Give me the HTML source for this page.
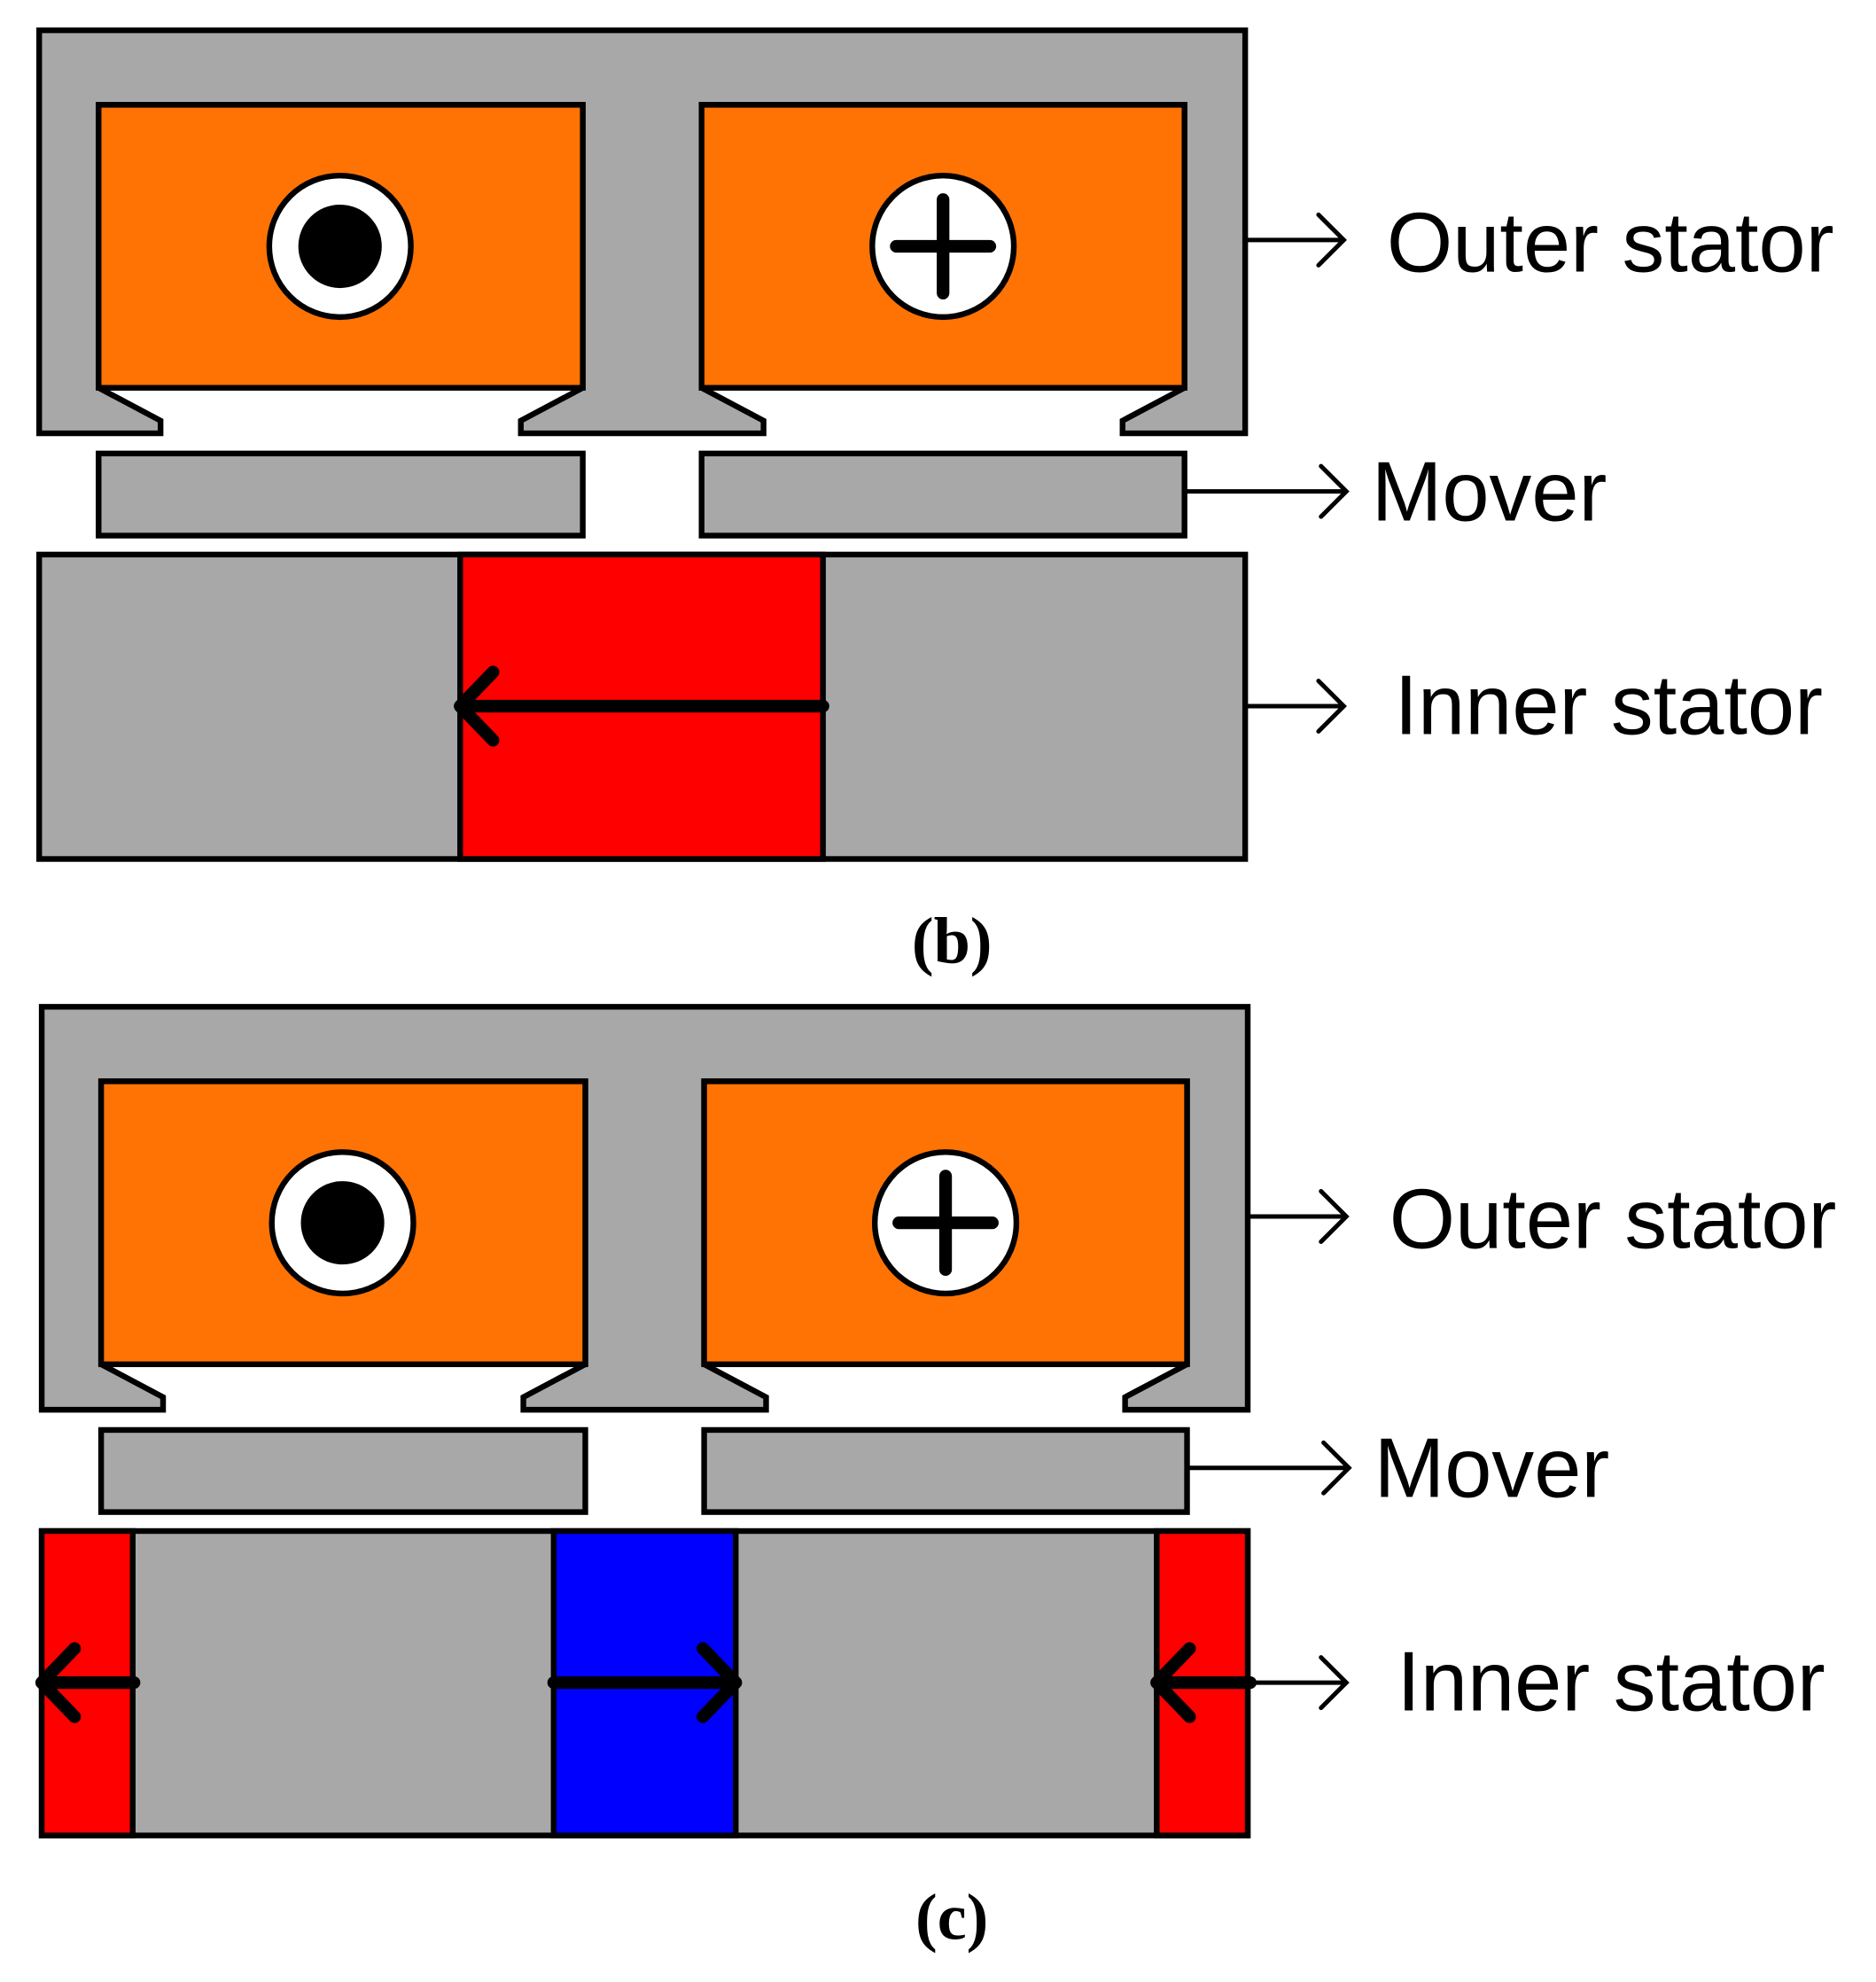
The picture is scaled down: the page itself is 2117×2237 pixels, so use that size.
<!DOCTYPE html>
<html><head><meta charset="utf-8"><style>
html,body{margin:0;padding:0;background:#fff}
svg{display:block}
</style></head><body>
<svg width="2117" height="2237" viewBox="0 0 1484 1569" preserveAspectRatio="none" xmlns="http://www.w3.org/2000/svg">
<defs>
<g id="top" stroke="#000" stroke-width="4.5" stroke-linejoin="miter">
<path fill="#a8a8a8" d="M31,24 H985 V343 H888 V333 L937,307 V83 H555 V307 L604,333 V343 H412 V333 L461,307 V83 H78 V307 L127,333 V343 H31 Z"/>
<rect x="78" y="83" width="383" height="224" fill="#ff7304"/>
<rect x="555" y="83" width="382" height="224" fill="#ff7304"/>
<circle cx="269" cy="195" r="56" fill="#fff"/>
<circle cx="269" cy="195" r="33" fill="#000" stroke="none"/>
<circle cx="746" cy="195" r="56" fill="#fff"/>
<path d="M746,158 V232 M709,195 H783" stroke-width="10" stroke-linecap="round" fill="none"/>
<rect x="78" y="359" width="383" height="65" fill="#a8a8a8"/>
<rect x="555" y="359" width="382" height="65" fill="#a8a8a8"/>
<g fill="none" stroke-width="3.5" stroke-linecap="round">
<path d="M985,190 H1063 M1043,170 L1063,190 L1043,210"/>
<path d="M937,389 H1065 M1045,369 L1065,389 L1045,409"/>
<path d="M985,559 H1063 M1043,539 L1063,559 L1043,579"/>
</g>
</g>
</defs>

<use href="#top"/>
<g stroke="#000" stroke-width="4.5">
<rect x="31" y="439" width="954" height="241" fill="#a8a8a8"/>
<rect x="364" y="439" width="287" height="241" fill="#f00"/>
<path d="M651,559 H364 M390,532 L364,559 L390,586" fill="none" stroke-width="10" stroke-linecap="round" stroke-linejoin="round"/>
</g>
<g font-family="Liberation Sans, sans-serif" font-size="67" fill="#000">
<text x="1097" y="215">Outer stator</text>
<text x="1085" y="412">Mover</text>
<text x="1103" y="581">Inner stator</text>
</g>
<text x="753" y="762" font-family="Liberation Serif, serif" font-size="52" font-weight="bold" text-anchor="middle">(b)</text>

<g transform="translate(2,773)">
<use href="#top"/>
<g stroke="#000" stroke-width="4.5">
<rect x="31" y="439" width="954" height="241" fill="#a8a8a8"/>
<rect x="31" y="439" width="72" height="241" fill="#f00"/>
<rect x="436" y="439" width="144" height="241" fill="#00f"/>
<rect x="913" y="439" width="72" height="241" fill="#f00"/>
<g fill="none" stroke-width="10" stroke-linecap="round" stroke-linejoin="round">
<path d="M104,559 H31 M57,532 L31,559 L57,586"/>
<path d="M436,559 H580 M554,532 L580,559 L554,586"/>
<path d="M987,559 H913 M939,532 L913,559 L939,586"/>
</g>
</g>
<g font-family="Liberation Sans, sans-serif" font-size="67" fill="#000">
<text x="1097" y="215">Outer stator</text>
<text x="1085" y="412">Mover</text>
<text x="1103" y="581">Inner stator</text>
</g>
<text x="751" y="762" font-family="Liberation Serif, serif" font-size="52" font-weight="bold" text-anchor="middle">(c)</text>
</g>
</svg>
</body></html>
